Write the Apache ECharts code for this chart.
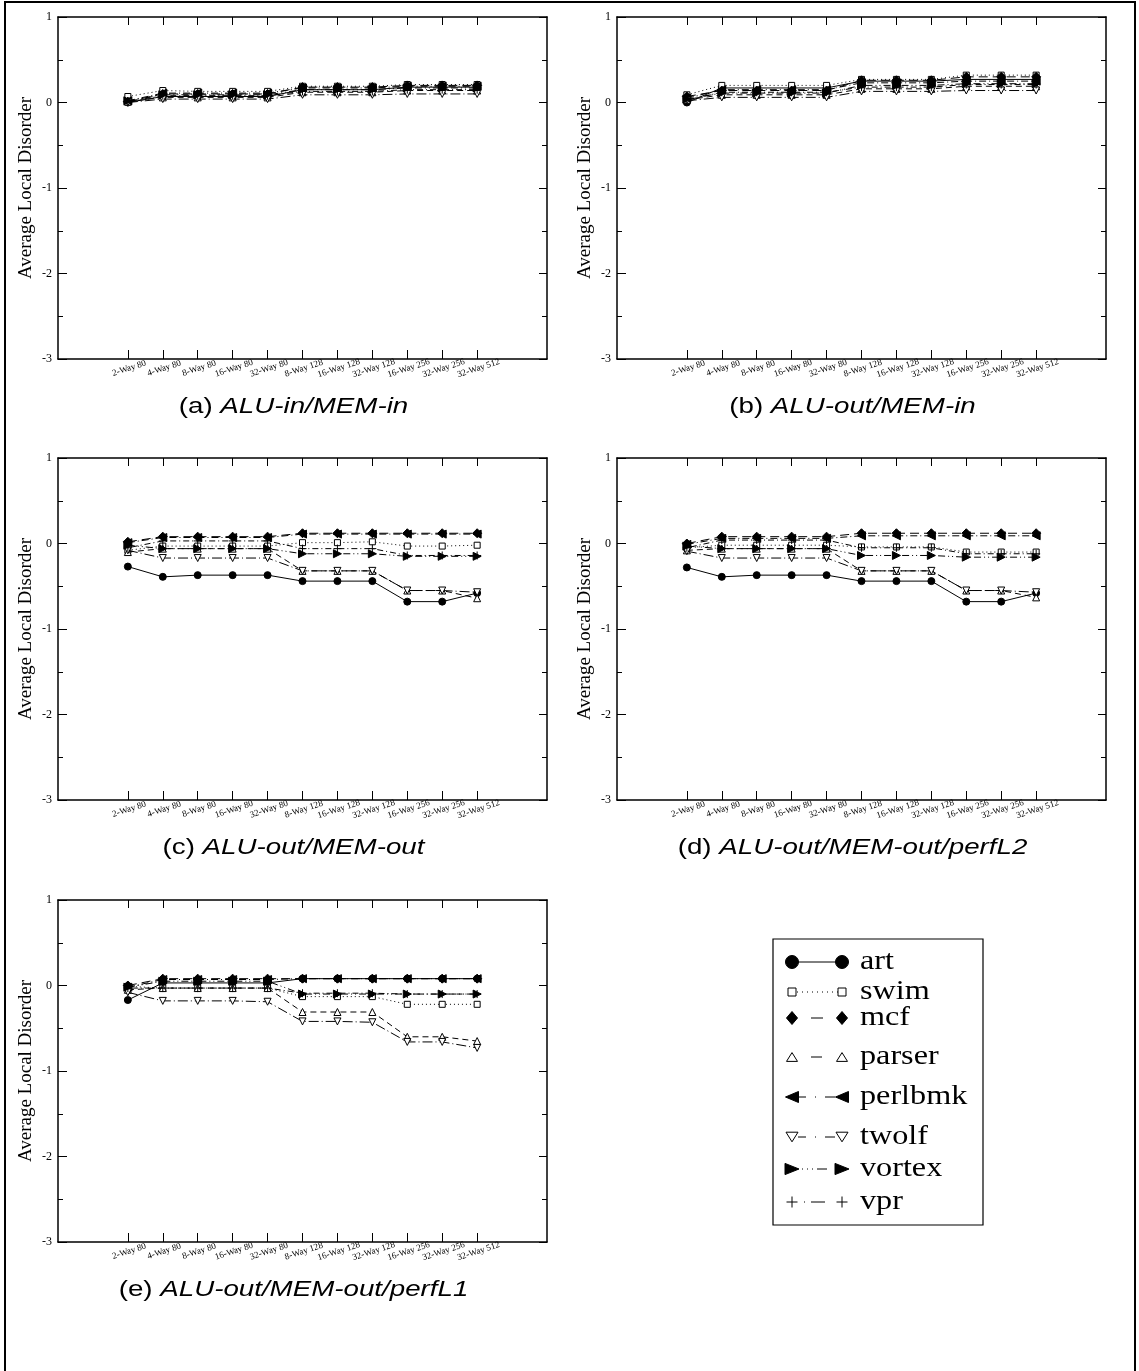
<!DOCTYPE html>
<html><head><meta charset="utf-8">
<script src="https://cdn.jsdelivr.net/npm/echarts@6/dist/echarts.min.js"></script>
<style>html,body{margin:0;padding:0;background:#fff}#c{width:1139px;height:1371px}</style>
</head><body><div id="c"></div>
<script>
// ---------- data ----------
const xLabels = ['2-Way 80','4-Way 80','8-Way 80','16-Way 80','32-Way 80','8-Way 128','16-Way 128','32-Way 128','16-Way 256','32-Way 256','32-Way 512'];
const benchmarks = ['art','swim','mcf','parser','perlbmk','twolf','vortex','vpr'];
const yMin = -3, yMax = 1;

// (a) ALU-in/MEM-in
const A_art     = [0.00, 0.07, 0.07, 0.07, 0.07, 0.15, 0.15, 0.15, 0.18, 0.18, 0.18];
const A_swim    = [0.07, 0.14, 0.13, 0.13, 0.13, 0.19, 0.19, 0.19, 0.21, 0.21, 0.21];
const A_mcf     = [0.01, 0.10, 0.10, 0.10, 0.10, 0.18, 0.18, 0.18, 0.20, 0.20, 0.20];
const A_parser  = [0.01, 0.06, 0.06, 0.06, 0.06, 0.12, 0.12, 0.12, 0.14, 0.14, 0.14];
const A_perlbmk = [0.02, 0.11, 0.11, 0.11, 0.11, 0.17, 0.17, 0.17, 0.19, 0.19, 0.19];
const A_twolf   = [0.00, 0.04, 0.04, 0.04, 0.04, 0.09, 0.09, 0.09, 0.10, 0.10, 0.10];
const A_vortex  = [0.02, 0.09, 0.09, 0.09, 0.09, 0.15, 0.15, 0.15, 0.17, 0.17, 0.17];
const A_vpr     = [0.01, 0.08, 0.08, 0.08, 0.08, 0.13, 0.13, 0.13, 0.15, 0.15, 0.15];

// (b) ALU-out/MEM-in
const B_art     = [0.00, 0.17, 0.17, 0.17, 0.17, 0.25, 0.25, 0.25, 0.27, 0.27, 0.27];
const B_swim    = [0.09, 0.20, 0.20, 0.20, 0.20, 0.27, 0.27, 0.27, 0.32, 0.32, 0.32];
const B_mcf     = [0.07, 0.14, 0.14, 0.14, 0.14, 0.26, 0.26, 0.26, 0.30, 0.30, 0.30];
const B_parser  = [0.03, 0.09, 0.09, 0.09, 0.09, 0.16, 0.16, 0.16, 0.19, 0.19, 0.19];
const B_perlbmk = [0.05, 0.15, 0.15, 0.15, 0.15, 0.23, 0.23, 0.23, 0.25, 0.25, 0.25];
const B_twolf   = [0.02, 0.06, 0.06, 0.06, 0.06, 0.13, 0.13, 0.13, 0.14, 0.14, 0.14];
const B_vortex  = [0.04, 0.11, 0.11, 0.11, 0.11, 0.20, 0.20, 0.20, 0.22, 0.22, 0.22];
const B_vpr     = [0.03, 0.12, 0.12, 0.12, 0.12, 0.18, 0.18, 0.18, 0.21, 0.21, 0.21];

// (c) ALU-out/MEM-out
const C_art     = [-0.27, -0.39, -0.37, -0.37, -0.37, -0.44, -0.44, -0.44, -0.68, -0.68, -0.58];
const C_swim    = [-0.08, -0.03, -0.03, -0.03, -0.03, 0.01, 0.01, 0.02, -0.03, -0.03, -0.02];
const C_mcf     = [0.02, 0.08, 0.08, 0.08, 0.08, 0.12, 0.12, 0.12, 0.12, 0.12, 0.12];
const C_parser  = [-0.10, -0.06, -0.06, -0.06, -0.06, -0.32, -0.32, -0.32, -0.55, -0.55, -0.64];
const C_perlbmk = [0.01, 0.07, 0.07, 0.07, 0.07, 0.11, 0.11, 0.11, 0.11, 0.11, 0.11];
const C_twolf   = [-0.08, -0.17, -0.17, -0.17, -0.17, -0.32, -0.32, -0.32, -0.55, -0.55, -0.57];
const C_vortex  = [-0.02, -0.06, -0.06, -0.06, -0.06, -0.12, -0.12, -0.12, -0.15, -0.15, -0.15];
const C_vpr     = [-0.05, 0.03, 0.03, 0.03, 0.03, -0.06, -0.06, -0.06, -0.14, -0.14, -0.14];

// (d) ALU-out/MEM-out/perfL2
const D_art     = [-0.28, -0.39, -0.37, -0.37, -0.37, -0.44, -0.44, -0.44, -0.68, -0.68, -0.58];
const D_swim    = [-0.05, -0.02, -0.02, -0.02, -0.02, -0.04, -0.04, -0.04, -0.10, -0.10, -0.10];
const D_mcf     = [0.00, 0.08, 0.08, 0.08, 0.08, 0.12, 0.12, 0.12, 0.12, 0.12, 0.12];
const D_parser  = [-0.08, -0.06, -0.06, -0.06, -0.06, -0.32, -0.32, -0.32, -0.55, -0.55, -0.63];
const D_perlbmk = [-0.01, 0.06, 0.06, 0.06, 0.06, 0.09, 0.09, 0.09, 0.09, 0.09, 0.09];
const D_twolf   = [-0.09, -0.17, -0.17, -0.17, -0.17, -0.32, -0.32, -0.32, -0.55, -0.55, -0.57];
const D_vortex  = [-0.03, -0.06, -0.06, -0.06, -0.06, -0.14, -0.14, -0.14, -0.16, -0.16, -0.16];
const D_vpr     = [-0.05, 0.04, 0.04, 0.04, 0.04, -0.05, -0.05, -0.05, -0.12, -0.12, -0.12];

// (e) ALU-out/MEM-out/perfL1
const E_art     = [-0.17, 0.03, 0.03, 0.03, 0.03, 0.08, 0.08, 0.08, 0.08, 0.08, 0.08];
const E_swim    = [-0.01, -0.03, -0.03, -0.03, -0.03, -0.13, -0.13, -0.13, -0.22, -0.22, -0.22];
const E_mcf     = [0.00, 0.08, 0.08, 0.08, 0.08, 0.08, 0.08, 0.08, 0.08, 0.08, 0.08];
const E_parser  = [-0.05, -0.03, -0.03, -0.03, -0.03, -0.31, -0.31, -0.31, -0.60, -0.60, -0.65];
const E_perlbmk = [-0.02, 0.07, 0.07, 0.07, 0.07, 0.08, 0.08, 0.08, 0.08, 0.08, 0.08];
const E_twolf   = [-0.08, -0.18, -0.18, -0.18, -0.19, -0.42, -0.42, -0.43, -0.66, -0.66, -0.73];
const E_vortex  = [-0.02, 0.05, 0.05, 0.05, 0.05, -0.10, -0.10, -0.10, -0.10, -0.10, -0.10];
const E_vpr     = [-0.03, -0.03, -0.03, -0.03, -0.03, -0.09, -0.09, -0.09, -0.10, -0.10, -0.10];

const panelTags   = ['(a) ', '(b) ', '(c) ', '(d) ', '(e) '];
const panelTitles = ['ALU-in/MEM-in', 'ALU-out/MEM-in', 'ALU-out/MEM-out', 'ALU-out/MEM-out/perfL2', 'ALU-out/MEM-out/perfL1'];
const yTitle = 'Average Local Disorder';

// ---------- assembly ----------
const panels = [
  [A_art, A_swim, A_mcf, A_parser, A_perlbmk, A_twolf, A_vortex, A_vpr],
  [B_art, B_swim, B_mcf, B_parser, B_perlbmk, B_twolf, B_vortex, B_vpr],
  [C_art, C_swim, C_mcf, C_parser, C_perlbmk, C_twolf, C_vortex, C_vpr],
  [D_art, D_swim, D_mcf, D_parser, D_perlbmk, D_twolf, D_vortex, D_vpr],
  [E_art, E_swim, E_mcf, E_parser, E_perlbmk, E_twolf, E_vortex, E_vpr]
];

const styles = {
  art:     {symbol:'circle', size:7, rot:0, fill:'#000', dash:'solid', lg:{kind:'circle', s:13}, lgDash:'solid'},
  swim:    {symbol:'rect', size:6, rot:0, fill:'#fff', dash:[1,3], lg:{kind:'square', s:8}, lgDash:[1,4]},
  mcf:     {symbol:'diamond', size:9, rot:0, fill:'#000', dash:[9,5], lg:{kind:'diamond', s:13}, lgDash:[0,19,12,100]},
  parser:  {symbol:'triangle', size:7, rot:0, fill:'#fff', dash:[6,4], lg:{kind:'up', s:11}, lgDash:[0,19,11,100]},
  perlbmk: {symbol:'triangle', size:8, rot:90, fill:'#000', dash:[7,3,1,3], lg:{kind:'left', s:13}, lgDash:[0,6,8,9,1,9,10,100]},
  twolf:   {symbol:'triangle', size:7, rot:180, fill:'#fff', dash:[10,3,1,3], lg:{kind:'down', s:12}, lgDash:[0,6,8,9,1,9,10,100]},
  vortex:  {symbol:'triangle', size:8, rot:-90, fill:'#000', dash:[7,3,1,3,1,3], lg:{kind:'right', s:14}, lgDash:[0,10,1,4,1,4,1,4,10,100]},
  vpr:     {symbol:'path://M5,0L5,10M0,5L10,5', size:8, rot:0, fill:'#000', dash:[1,3,6,3], lg:{kind:'plus', s:11}, lgDash:[0,12,1,6,14,100]}
};

const xCats = ['', ''].concat(xLabels, ['', '']);
const showCat = (idx, val) => val !== '';
const colLeft = [58, 617], rowTop = [17, 458, 900], gW = 489, gH = 342;
const axisLineStyle = {color:'#000', width:1.5};
const serif = 'Liberation Serif';

const grid = [], xAxis = [], yAxis = [], series = [], graphic = [];
const xTop = [], yRight = [];
panels.forEach((pd, i) => {
  const left = colLeft[i % 2], top = rowTop[Math.floor(i / 2)];
  grid.push({left:left, top:top, width:gW, height:gH, containLabel:false});
  xAxis.push({gridIndex:i, type:'category', data:xCats, boundaryGap:false,
    axisLine:{onZero:false, lineStyle:axisLineStyle},
    axisTick:{inside:true, length:9, interval:showCat, lineStyle:{color:'#000'}},
    axisLabel:{interval:showCat, rotate:18, fontFamily:serif, fontSize:9, color:'#000', margin:5, align:'center', verticalAlign:'top'},
    splitLine:{show:false}});
  xTop.push({gridIndex:i, type:'category', position:'top', data:xCats, boundaryGap:false,
    axisLine:{onZero:false, lineStyle:axisLineStyle},
    axisTick:{inside:true, length:8, interval:showCat, lineStyle:{color:'#000'}},
    axisLabel:{show:false}, splitLine:{show:false}});
  yAxis.push({gridIndex:i, type:'value', min:yMin, max:yMax, interval:1,
    axisLine:{show:true, onZero:false, lineStyle:axisLineStyle},
    axisTick:{show:true, inside:true, length:9, lineStyle:{color:'#000'}},
    minorTick:{show:true, splitNumber:2, length:5, lineStyle:{color:'#000'}},
    axisLabel:{fontFamily:serif, fontSize:12, color:'#000', margin:6},
    splitLine:{show:false},
    name:yTitle, nameLocation:'middle', nameGap:22,
    nameTextStyle:{fontFamily:serif, fontSize:19, color:'#000'}});
  yRight.push({gridIndex:i, type:'value', position:'right', min:yMin, max:yMax, interval:1,
    axisLine:{show:true, onZero:false, lineStyle:axisLineStyle},
    axisTick:{show:true, inside:true, length:8, lineStyle:{color:'#000'}},
    minorTick:{show:true, splitNumber:2, length:5, lineStyle:{color:'#000'}},
    axisLabel:{show:false}, splitLine:{show:false}});

  benchmarks.forEach((b, k) => {
    const st = styles[b];
    series.push({type:'line', name:b, xAxisIndex:i, yAxisIndex:i,
      data: pd[k].map((v, j) => [xLabels[j], v]),
      symbol:st.symbol, symbolSize:st.size, symbolRotate:st.rot, showSymbol:true,
      itemStyle:{color:st.fill, borderColor:'#000', borderWidth:1},
      lineStyle:{color:'#000', width:1, type:st.dash},
      emphasis:{disabled:true}, silent:true, z:2 + k});
  });

  // caption
  graphic.push({type:'text', x:left + gW / 2 - 9, y:top + gH + 48, scaleX:1.26,
    style:{text:panelTags[i] + '{i|' + panelTitles[i] + '}', font:'22px "Liberation Sans"',
      fill:'#000', align:'center', verticalAlign:'middle',
      rich:{i:{fontStyle:'italic', fontSize:22, fontFamily:'Liberation Sans', fill:'#000'}}}});
});

// legend (drawn as graphic)
const lgBox = {x:773, y:939, w:210, h:286};
const lgRows = [962, 992, 1018, 1057, 1097, 1137, 1169, 1202];
const lgX1 = 792, lgX2 = 842, lgTextX = 860;
function marker(kind, cx, cy, s) {
  const h = s / 2, blk = {fill:'#000', stroke:'#000', lineWidth:1}, wht = {fill:'#fff', stroke:'#000', lineWidth:1};
  switch (kind) {
    case 'circle': return [{type:'circle', shape:{cx:cx, cy:cy, r:h}, style:blk}];
    case 'square': return [{type:'rect', shape:{x:cx-h, y:cy-h, width:s, height:s}, style:wht}];
    case 'diamond': return [{type:'polygon', shape:{points:[[cx,cy-h],[cx+h*0.85,cy],[cx,cy+h],[cx-h*0.85,cy]]}, style:blk}];
    case 'up': return [{type:'polygon', shape:{points:[[cx,cy-h*0.8],[cx+h,cy+h*0.8],[cx-h,cy+h*0.8]]}, style:wht}];
    case 'down': return [{type:'polygon', shape:{points:[[cx-h,cy-h*0.8],[cx+h,cy-h*0.8],[cx,cy+h*0.8]]}, style:wht}];
    case 'left': return [{type:'polygon', shape:{points:[[cx-h,cy],[cx+h,cy-h*0.85],[cx+h,cy+h*0.85]]}, style:blk}];
    case 'right': return [{type:'polygon', shape:{points:[[cx+h,cy],[cx-h,cy-h*0.8],[cx-h,cy+h*0.8]]}, style:blk}];
    case 'plus': return [
      {type:'line', shape:{x1:cx-h, y1:cy, x2:cx+h, y2:cy}, style:{stroke:'#000', lineWidth:1}},
      {type:'line', shape:{x1:cx, y1:cy-h, x2:cx, y2:cy+h}, style:{stroke:'#000', lineWidth:1}}];
  }
  return [];
}
graphic.push({type:'rect', shape:{x:lgBox.x, y:lgBox.y, width:lgBox.w, height:lgBox.h},
  style:{fill:'#fff', stroke:'#000', lineWidth:1.2}, z:10});
benchmarks.forEach((b, k) => {
  const st = styles[b], y = lgRows[k];
  graphic.push({type:'line', shape:{x1:lgX1, y1:y, x2:lgX2, y2:y},
    style:{stroke:'#000', lineWidth:1, lineDash: st.lgDash === 'solid' ? null : st.lgDash}, z:11});
  marker(st.lg.kind, lgX1, y, st.lg.s).concat(marker(st.lg.kind, lgX2, y, st.lg.s)).forEach(m => { m.z = 12; graphic.push(m); });
  graphic.push({type:'text', x:lgTextX, y:y, scaleX:1.15, z:12,
    style:{text:b, font:'28px "Liberation Serif"', fill:'#000', align:'left', verticalAlign:'middle'}});
});

// outer frame
graphic.push({type:'rect', shape:{x:5, y:2, width:1130, height:1400}, style:{fill:'none', stroke:'#000', lineWidth:2}, z:20});

const chart = echarts.init(document.getElementById('c'), null, {renderer:'canvas'});
chart.setOption({
  animation:false,
  backgroundColor:'#fff',
  grid:grid,
  xAxis:xAxis.concat(xTop),
  yAxis:yAxis.concat(yRight),
  series:series,
  graphic:graphic
});
</script></body></html>
